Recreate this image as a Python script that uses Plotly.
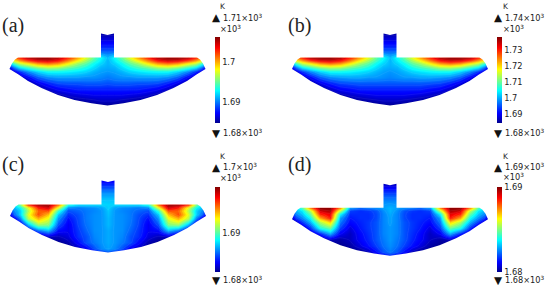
import plotly.graph_objects as go

# temperature fields, left/right mirrored about the neck
# rows follow ROW_POS (top of neck to tip), columns follow COL_POS (centre to edge)
COL_POS = [0, 7, 14, 22, 30, 40, 50, 60, 70, 80, 88, 94, 98]
ROW_POS = [-24, -18, -12, -6, 0, 3, 6, 10, 14, 20, 26, 32, 38, 44, 48]

temp_a = [
    [1685.6] * 13,
    [1686.7] * 13,
    [1688.0] * 13,
    [1689.7] * 13,
    [1691.6, 1693.1, 1695.1, 1697.8, 1700.4, 1703.2, 1705.5, 1706.2, 1706.2, 1705.5, 1703.2, 1701.0, 1698.9],
    [1691.4, 1692.7, 1694.2, 1696.3, 1698.3, 1701.0, 1703.6, 1704.7, 1704.3, 1702.5, 1700.4, 1698.3, 1695.7],
    [1691.4, 1692.1, 1693.1, 1694.8, 1696.1, 1698.3, 1700.4, 1701.3, 1700.4, 1698.3, 1696.8, 1694.0, 1691.4],
    [1691.2, 1691.4, 1692.3, 1693.3, 1694.2, 1695.1, 1696.3, 1696.6, 1695.7, 1694.0, 1692.5, 1689.7, 1687.1],
    [1690.8, 1691.0, 1691.4, 1692.1, 1692.5, 1692.9, 1693.1, 1693.1, 1692.1, 1690.4, 1688.4, 1686.3, 1685.4],
    [1690.1, 1690.4, 1690.6, 1690.6, 1690.8, 1690.8, 1690.8, 1690.4, 1689.3, 1687.1, 1685.6, 1685.0, 1685.0],
    [1689.1, 1689.3, 1689.3, 1689.3, 1689.1, 1689.1, 1688.9, 1688.0, 1686.7, 1685.2, 1685.0, 1685.0, 1685.0],
    [1688.0, 1688.0, 1688.0, 1688.0, 1688.0, 1687.6, 1687.1, 1686.1, 1685.0, 1685.0, 1685.0, 1685.0, 1685.0],
    [1686.9, 1686.9, 1686.9, 1686.7, 1686.5, 1686.1, 1685.4, 1685.0, 1685.0, 1685.0, 1685.0, 1685.0, 1685.0],
    [1685.9, 1685.9, 1685.6, 1685.4, 1685.2, 1685.0, 1685.0, 1685.0, 1685.0, 1685.0, 1685.0, 1685.0, 1685.0],
    [1685.0] * 13,
]
temp_b = [
    [1686.4] * 13,
    [1689.1] * 13,
    [1692.3] * 13,
    [1696.6] * 13,
    [1701.4, 1705.1, 1710.0, 1716.9, 1723.3, 1730.3, 1736.2, 1737.8, 1737.8, 1736.2, 1730.3, 1724.9, 1719.6],
    [1700.9, 1704.0, 1707.8, 1713.2, 1718.0, 1724.9, 1731.3, 1734.0, 1733.0, 1728.7, 1723.3, 1718.0, 1711.6],
    [1700.9, 1702.5, 1705.1, 1709.4, 1712.6, 1718.0, 1723.3, 1725.5, 1723.3, 1718.0, 1714.2, 1707.3, 1700.9],
    [1700.3, 1700.9, 1703.0, 1705.7, 1707.8, 1710.0, 1713.2, 1713.7, 1711.6, 1707.3, 1703.5, 1696.6, 1690.2],
    [1699.2, 1699.8, 1700.9, 1702.5, 1703.5, 1704.6, 1705.1, 1705.1, 1702.5, 1698.2, 1693.4, 1688.0, 1685.9],
    [1698.2, 1698.7, 1699.2, 1699.2, 1699.8, 1699.8, 1699.2, 1698.2, 1695.5, 1690.2, 1686.4, 1684.8, 1684.8],
    [1695.5, 1695.5, 1695.5, 1695.5, 1695.5, 1695.0, 1694.4, 1692.3, 1689.1, 1685.3, 1684.8, 1684.8, 1684.8],
    [1692.3, 1692.3, 1692.3, 1692.3, 1692.3, 1691.2, 1690.2, 1687.5, 1684.8, 1684.8, 1684.8, 1684.8, 1684.8],
    [1689.6, 1689.6, 1689.6, 1689.1, 1688.5, 1687.5, 1685.9, 1684.8, 1684.8, 1684.8, 1684.8, 1684.8, 1684.8],
    [1687.0, 1687.0, 1686.4, 1685.9, 1685.3, 1684.8, 1684.8, 1684.8, 1684.8, 1684.8, 1684.8, 1684.8, 1684.8],
    [1684.8] * 13,
]
temp_c = [
    [1684.9] * 13,
    [1686.1] * 13,
    [1687.2] * 13,
    [1687.9] * 13,
    [1688.2, 1688.3, 1688.3, 1688.3, 1688.3, 1689.2, 1694.6, 1697.4, 1697.4, 1695.6, 1690.6, 1688.5, 1687.8],
    [1688.2, 1687.5, 1687.2, 1687.1, 1686.9, 1687.1, 1692.0, 1696.6, 1695.6, 1692.0, 1688.9, 1687.8, 1687.1],
    [1688.0, 1687.3, 1687.1, 1686.9, 1686.6, 1686.3, 1689.5, 1694.9, 1694.6, 1691.3, 1688.2, 1687.2, 1686.3],
    [1687.9, 1687.3, 1687.2, 1686.9, 1686.3, 1685.8, 1688.0, 1693.2, 1694.9, 1692.0, 1688.2, 1686.6, 1684.6],
    [1687.8, 1687.3, 1687.2, 1686.9, 1686.2, 1685.3, 1687.2, 1692.0, 1693.4, 1691.3, 1686.9, 1684.6, 1683.8],
    [1687.8, 1687.3, 1687.2, 1686.8, 1686.1, 1684.9, 1686.3, 1690.6, 1690.9, 1687.8, 1684.2, 1683.5, 1683.5],
    [1687.6, 1687.3, 1687.2, 1686.6, 1685.9, 1684.9, 1685.2, 1687.8, 1686.6, 1684.4, 1683.5, 1683.5, 1683.5],
    [1687.6, 1687.3, 1687.1, 1686.3, 1685.8, 1684.6, 1684.1, 1684.2, 1683.5, 1683.5, 1683.5, 1683.5, 1683.5],
    [1687.6, 1687.3, 1686.9, 1686.3, 1685.2, 1683.9, 1683.5, 1683.5, 1683.5, 1683.5, 1683.5, 1683.5, 1683.5],
    [1687.5, 1687.1, 1686.3, 1684.9, 1684.1, 1683.5, 1683.5, 1683.5, 1683.5, 1683.5, 1683.5, 1683.5, 1683.5],
    [1686.3, 1685.6, 1684.6, 1683.5, 1683.5, 1683.5, 1683.5, 1683.5, 1683.5, 1683.5, 1683.5, 1683.5, 1683.5],
]
temp_d = [
    [1680.5] * 13,
    [1681.4] * 13,
    [1682.1] * 13,
    [1682.6] * 13,
    [1683.0, 1682.8, 1682.6, 1682.4, 1682.2, 1682.7, 1687.5, 1689.9, 1689.9, 1687.5, 1684.5, 1683.4, 1683.0],
    [1683.0, 1682.6, 1682.0, 1681.7, 1681.6, 1681.8, 1685.5, 1689.6, 1689.2, 1685.5, 1683.6, 1683.0, 1682.5],
    [1682.9, 1682.5, 1681.9, 1681.6, 1681.6, 1681.6, 1683.8, 1689.0, 1688.5, 1684.7, 1683.2, 1682.6, 1681.8],
    [1682.8, 1682.5, 1681.9, 1681.6, 1681.6, 1681.4, 1682.8, 1688.6, 1687.2, 1683.8, 1682.6, 1681.8, 1680.6],
    [1682.8, 1682.5, 1682.0, 1681.7, 1681.5, 1681.2, 1682.4, 1686.8, 1685.5, 1683.0, 1681.7, 1680.6, 1680.1],
    [1682.7, 1682.5, 1682.0, 1681.7, 1681.4, 1680.8, 1681.8, 1684.8, 1684.0, 1681.6, 1680.3, 1680.0, 1680.0],
    [1682.7, 1682.5, 1682.0, 1681.6, 1681.2, 1680.5, 1681.0, 1682.8, 1681.4, 1680.2, 1680.0, 1680.0, 1680.0],
    [1682.7, 1682.4, 1682.0, 1681.5, 1681.1, 1680.5, 1680.2, 1680.4, 1680.0, 1680.0, 1680.0, 1680.0, 1680.0],
    [1682.6, 1682.3, 1681.8, 1681.3, 1680.8, 1680.2, 1680.0, 1680.0, 1680.0, 1680.0, 1680.0, 1680.0, 1680.0],
    [1682.4, 1682.0, 1681.3, 1680.4, 1680.0, 1680.0, 1680.0, 1680.0, 1680.0, 1680.0, 1680.0, 1680.0, 1680.0],
    [1681.5, 1681.0, 1680.3, 1680.0, 1680.0, 1680.0, 1680.0, 1680.0, 1680.0, 1680.0, 1680.0, 1680.0, 1680.0],
]

color_min = [1685.0, 1684.8, 1683.5, 1680.0]
color_max = [1706.4, 1738.3, 1697.7, 1690.0]
tick_vals = [[1690, 1700], [1690, 1700, 1710, 1720, 1730], [1690], [1680, 1690]]
tick_text = [["1.69", "1.7"], ["1.69", "1.7", "1.71", "1.72", "1.73"], ["1.69"], ["1.68", "1.69"]]
max_labels = ["1.71×10<sup>3</sup>", "1.74×10<sup>3</sup>", "1.7×10<sup>3</sup>", "1.69×10<sup>3</sup>"]
min_labels = ["1.68×10<sup>3</sup>"] * 4
panel_names = ["(a)", "(b)", "(c)", "(d)"]
fields = [temp_a, temp_b, temp_c, temp_d]

# half outline of the crucible section, centre of the neck out to the tip
OUTLINE_TOP = [(0, -22.5), (3, -23.2), (6.5, -24), (6.5, 0), (89.5, 0), (92.5, 2), (95.5, 6), (98, 11.5)]
OUTLINE_BOTTOM = [(89, 17), (79.5, 23.5), (66, 30.5), (49.5, 37.5), (33, 42.5), (16, 45.8), (0, 48)]

W, H = 550, 295
HALF_W = 104
Y_TOP, Y_BOTTOM = -28, 52

# pixel placement per panel: centre x, body top y, colour bar left/top/bottom
panels = [
    dict(cx=107.5, ty=57.5, bx=215, bt=36.7, bb=122.3, name=(2, 25), k=6, up=18, mult=28.5, down=132.5),
    dict(cx=390, ty=57.5, bx=497.3, bt=36.7, bb=122.3, name=(288, 26), k=6, up=18, mult=29, down=133),
    dict(cx=108, ty=204.5, bx=215, bt=187, bb=272, name=(2, 164), k=156, up=167, mult=177.7, down=280.3),
    dict(cx=390, ty=207.7, bx=497.3, bt=187, bb=272, name=(288, 164), k=156, up=167, mult=177.5, down=280.3),
]

JET = [[0, "#00008f"], [0.11, "#0000ff"], [0.125, "#0008ff"], [0.375, "#00ffff"],
       [0.5, "#7fff7f"], [0.625, "#ffff00"], [0.875, "#ff0000"], [1, "#800000"]]
LABEL_FONT = dict(family="DejaVu Sans", size=8.2, color="#222222")


def mirror(row):
    return row[:0:-1] + row


def mask_path():
    left = [(-x, y) for x, y in OUTLINE_TOP] + [(-x, y) for x, y in OUTLINE_BOTTOM]
    right = [(x, y) for x, y in OUTLINE_BOTTOM[-2::-1]] + [(x, y) for x, y in OUTLINE_TOP[:0:-1]]
    pts = left + right
    inner = "M " + " L ".join(f"{x} {y}" for x, y in pts) + " Z"
    outer = f"M {-HALF_W} {Y_TOP} L {HALF_W} {Y_TOP} L {HALF_W} {Y_BOTTOM} L {-HALF_W} {Y_BOTTOM} Z"
    return outer + " " + inner


def add_text(fig, x, y, text, font=LABEL_FONT):
    fig.add_annotation(x=x / W, y=1 - y / H, xref="paper", yref="paper", text=text, showarrow=False,
                       xanchor="left", yanchor="middle", font=font, borderpad=0, borderwidth=0)


fig = go.Figure()
xs = [-c for c in COL_POS[:0:-1]] + COL_POS

for i, p in enumerate(panels):
    suffix = "" if i == 0 else str(i + 1)
    z = [mirror(row) for row in fields[i]]
    span = color_max[i] - color_min[i]
    fig.add_trace(go.Heatmap(
        x=xs, y=ROW_POS, z=z, zsmooth="best", colorscale=JET, zmin=color_min[i], zmax=color_max[i],
        xaxis="x" + suffix, yaxis="y" + suffix, hoverinfo="skip",
        colorbar=dict(
            x=p["bx"] / W, xanchor="left", xref="container",
            y=1 - p["bt"] / H, yanchor="top", yref="container",
            lenmode="pixels", len=p["bb"] - p["bt"],
            thicknessmode="pixels", thickness=5.4,
            xpad=0, ypad=0, outlinewidth=0, ticks="", ticklabelposition="outside",
            tickmode="array", tickvals=tick_vals[i], ticktext=tick_text[i], tickfont=LABEL_FONT,
        ),
    ))
    # faint isotherms like the original render
    fig.add_trace(go.Contour(
        x=xs, y=ROW_POS, z=z, showscale=False, hoverinfo="skip",
        xaxis="x" + suffix, yaxis="y" + suffix,
        contours=dict(coloring="none", start=color_min[i], end=color_max[i], size=span / 22),
        line=dict(color="rgba(255,255,255,0.1)", width=0.6, smoothing=1),
    ))
    fig.update_layout({
        "xaxis" + suffix: dict(domain=[(p["cx"] - HALF_W) / W, (p["cx"] + HALF_W) / W],
                               range=[-HALF_W, HALF_W], visible=False),
        "yaxis" + suffix: dict(domain=[1 - (p["ty"] + Y_BOTTOM) / H, 1 - (p["ty"] + Y_TOP) / H],
                               range=[Y_BOTTOM, Y_TOP], visible=False),
    })
    fig.add_shape(type="path", path=mask_path(), xref="x" + suffix, yref="y" + suffix,
                  fillcolor="white", fillrule="evenodd", line_width=0, layer="above")

    text_x = p["bx"] + 7.7
    add_text(fig, p["bx"] + 5.5, p["k"], "K", dict(family="DejaVu Sans", size=7.5, color="#222222"))
    add_text(fig, p["bx"] - 3.5, p["up"] - 0.5, "▲", dict(family="DejaVu Sans", size=10.5, color="#111111"))
    add_text(fig, text_x, p["up"], max_labels[i])
    add_text(fig, p["bx"] + 5.5, p["mult"], "×10<sup>3</sup>")
    add_text(fig, p["bx"] - 3.5, p["down"], "▼", dict(family="DejaVu Sans", size=10.5, color="#111111"))
    add_text(fig, text_x, p["down"], min_labels[i])
    add_text(fig, p["name"][0], p["name"][1], panel_names[i],
             dict(family="Liberation Serif", size=20, color="#222222"))

fig.update_layout(width=W, height=H, margin=dict(l=0, r=0, t=0, b=0, autoexpand=False), showlegend=False,
                  paper_bgcolor="white", plot_bgcolor="white")
fig.write_html("out.html", config={"displayModeBar": False},
               post_script="document.body.style.margin='0';")
